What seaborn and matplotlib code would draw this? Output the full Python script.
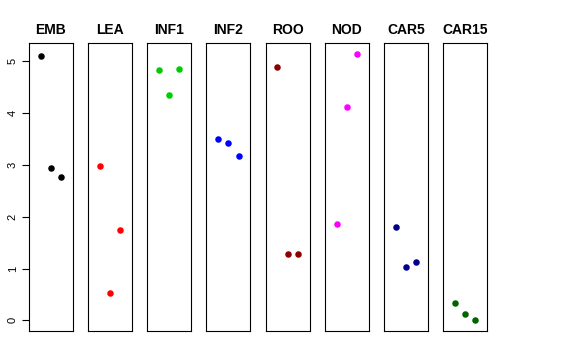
import numpy as np
import pandas as pd
import seaborn as sns
import matplotlib
matplotlib.use("Agg")
import matplotlib.pyplot as plt

# tissue panels, three replicates each
tissues = ["EMB", "LEA", "INF1", "INF2", "ROO", "NOD", "CAR5", "CAR15"]
replicate = [1, 2, 3]
EMB = [5.11, 2.94, 2.77]
LEA = [2.99, 0.53, 1.75]
INF1 = [4.83, 4.35, 4.86]
INF2 = [3.51, 3.42, 3.17]
ROO = [4.90, 1.28, 1.28]
NOD = [1.87, 4.12, 5.15]
CAR5 = [1.80, 1.03, 1.12]
CAR15 = [0.33, 0.12, 0.0]
colours = ["black", "red", "#00CD00", "blue", "#8B0000", "magenta", "#00008B", "#006400"]
y_ticks = [0, 1, 2, 3, 4, 5]

values = [EMB, LEA, INF1, INF2, ROO, NOD, CAR5, CAR15]
df = pd.DataFrame({
    "tissue": np.repeat(tissues, len(replicate)),
    "rep": replicate * len(tissues),
    "expr": np.concatenate(values),
})

sns.set_style("white")
plt.rcParams["font.family"] = ["Liberation Sans", "DejaVu Sans"]
plt.rcParams["text.color"] = "black"
plt.rcParams["ytick.color"] = "black"

fig = plt.figure(figsize=(5.76, 3.6), dpi=100)
W, H = 576.0, 360.0
ymin, ymax = df["expr"].min(), df["expr"].max()
yr = ymax - ymin
for i, (t, c) in enumerate(zip(tissues, colours)):
    left = 29 + i * 59.15
    ax = fig.add_axes([left / W, 29 / H, 44 / W, 288 / H])
    sub = df[df["tissue"] == t]
    sns.scatterplot(data=sub, x="rep", y="expr", color=c, s=22, linewidth=0, ax=ax)
    ax.set_xlim(-0.16, 4.16)
    ax.set_ylim(ymin - 0.04 * yr, ymax + 0.04 * yr)
    ax.set_xticks([])
    ax.set_xlabel("")
    ax.set_ylabel("")
    ax.set_title(t, fontsize=10, fontweight="bold", pad=6.5, color="black")
    for sp in ax.spines.values():
        sp.set_visible(True)
        sp.set_color("black")
        sp.set_linewidth(0.8)
    if i == 0:
        ax.set_yticks(y_ticks)
        ax.set_yticklabels([str(v) for v in y_ticks], rotation=90, va="center", fontsize=8, color="black")
        ax.tick_params(axis="y", left=True, length=5, width=0.8, pad=3, color="black")
    else:
        ax.set_yticks([])

fig.savefig("out.png", dpi=100)
